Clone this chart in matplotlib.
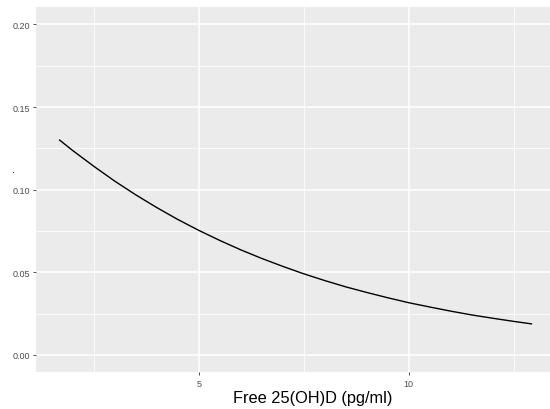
import matplotlib
matplotlib.use('Agg')
from matplotlib import pyplot as plt
from matplotlib.ticker import FixedLocator

# predicted probability against free 25(OH)D
free_vitd = [1.69, 2.0, 2.5, 3.0, 3.5, 4.0, 4.5, 5.0, 5.5, 6.0, 6.5, 7.0, 7.5,
             8.0, 8.5, 9.0, 9.5, 10.0, 10.5, 11.0, 11.5, 12.0, 12.5, 12.92]
prob = [0.1300, 0.1237, 0.1142, 0.1052, 0.0969, 0.0892, 0.0820, 0.0754,
        0.0693, 0.0636, 0.0584, 0.0536, 0.0491, 0.0450, 0.0412, 0.0378,
        0.0346, 0.0316, 0.0290, 0.0265, 0.0242, 0.0222, 0.0203, 0.0188]

x_major = [5, 10]
x_minor = [2.5, 7.5, 12.5]
y_major = [0.00, 0.05, 0.10, 0.15, 0.20]
y_minor = [0.025, 0.075, 0.125, 0.175]

plt.rcParams['font.family'] = ['Liberation Sans', 'DejaVu Sans']

fig = plt.figure(figsize=(5.5, 4.1), dpi=100)
ax = fig.add_axes([0.0655, 0.0895, 0.9435, 0.891])
ax.set_facecolor('#EBEBEB')

ax.plot(free_vitd, prob, color='black', linewidth=1.0, zorder=3)

ax.set_xlim(1.1285, 13.48)
ax.set_ylim(-0.0105, 0.2105)

ax.xaxis.set_major_locator(FixedLocator(x_major))
ax.xaxis.set_minor_locator(FixedLocator(x_minor))
ax.yaxis.set_major_locator(FixedLocator(y_major))
ax.yaxis.set_minor_locator(FixedLocator(y_minor))
ax.set_xticklabels([str(v) for v in x_major])
ax.set_yticklabels(['%.2f' % v for v in y_major])

ax.grid(which='major', color='white', linewidth=1.1, zorder=1)
ax.grid(which='minor', color='white', linewidth=0.55, zorder=1)
ax.set_axisbelow(True)

ax.tick_params(which='major', length=2.5, width=0.6, color='#333333',
               labelsize=6.5, labelcolor='#4D4D4D', pad=2)
ax.tick_params(which='minor', length=0)

for s in ax.spines.values():
    s.set_visible(False)

# axis titles
fig.text(0.569, 0.0163, 'Free 25(OH)D (pg/ml)', fontsize=11.8,
         ha='center', va='baseline')
fig.text(0.02, 0.585, '.', rotation=90, fontsize=8, ha='center', va='center')

fig.savefig('out.png', dpi=100)
